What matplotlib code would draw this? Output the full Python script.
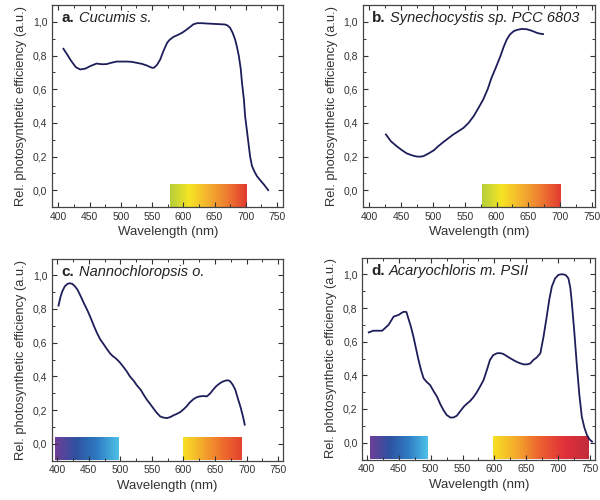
import numpy as np
import matplotlib
matplotlib.use("Agg")
import matplotlib.pyplot as plt
from matplotlib.colors import LinearSegmentedColormap
from matplotlib.ticker import MultipleLocator, FuncFormatter

plt.rcParams['font.family'] = ['Liberation Sans', 'DejaVu Sans']

# panel a: Cucumis s.
wl_a = [408, 415, 420, 428, 435, 443, 451, 461, 470, 477, 485, 493, 510, 518, 526, 534,
        542, 546, 550, 553, 558, 563, 568, 574, 578, 584, 590, 598, 604, 611, 616, 622,
        630, 638, 648, 659, 667, 671, 675, 679, 683, 686, 689, 692, 694, 697, 699, 702,
        705, 707, 710, 714, 718, 723, 729, 736]
eff_a = [0.84, 0.80, 0.77, 0.73, 0.717, 0.722, 0.737, 0.752, 0.748, 0.749, 0.757, 0.764,
         0.764, 0.762, 0.756, 0.75, 0.74, 0.733, 0.727, 0.727, 0.745, 0.776, 0.825, 0.875,
         0.893, 0.91, 0.92, 0.935, 0.95, 0.97, 0.985, 0.992, 0.992, 0.99, 0.988, 0.986,
         0.984, 0.978, 0.964, 0.935, 0.895, 0.85, 0.796, 0.72, 0.638, 0.54, 0.44, 0.35,
         0.26, 0.2, 0.143, 0.11, 0.083, 0.06, 0.034, 0.0]

# panel b: Synechocystis sp. PCC 6803
wl_b = [426, 434, 443, 451, 459, 467, 474, 480, 485, 493, 501, 508, 516, 524, 532, 540,
        548, 556, 564, 571, 579, 586, 592, 599, 606, 611, 616, 621, 627, 633, 640, 647,
        653, 658, 663, 668, 673]
eff_b = [0.331, 0.29, 0.261, 0.238, 0.218, 0.207, 0.2, 0.199, 0.202, 0.218, 0.236, 0.26,
         0.285, 0.308, 0.331, 0.35, 0.37, 0.40, 0.44, 0.485, 0.539, 0.60, 0.667, 0.73,
         0.796, 0.85, 0.895, 0.925, 0.945, 0.953, 0.958, 0.956, 0.95, 0.943, 0.935, 0.93,
         0.927]

# panel c: Nannochloropsis o.
wl_c = [402, 405, 408, 412, 416, 420, 424, 428, 432, 437, 442, 448, 453, 458, 463, 468,
        474, 479, 484, 488, 492, 496, 500, 505, 510, 515, 521, 526, 532, 537, 542, 548,
        553, 558, 563, 568, 574, 579, 584, 590, 595, 600, 605, 610, 616, 621, 626, 631,
        637, 642, 647, 652, 658, 663, 668, 671, 674, 678, 682, 686, 690, 694, 697]
eff_c = [0.82, 0.87, 0.905, 0.935, 0.949, 0.953, 0.949, 0.935, 0.915, 0.877, 0.836, 0.79,
         0.747, 0.70, 0.657, 0.62, 0.588, 0.56, 0.535, 0.52, 0.509, 0.495, 0.479, 0.455,
         0.43, 0.40, 0.374, 0.347, 0.321, 0.29, 0.261, 0.232, 0.206, 0.182, 0.162, 0.155,
         0.152, 0.158, 0.168, 0.178, 0.188, 0.204, 0.222, 0.245, 0.265, 0.276, 0.281,
         0.283, 0.281, 0.297, 0.321, 0.342, 0.36, 0.37, 0.376, 0.376, 0.37, 0.35, 0.321,
         0.27, 0.222, 0.165, 0.113]

# panel d: Acaryochloris m. PSII
wl_d = [403, 410, 424, 434, 442, 450, 454, 458, 462, 465, 469, 473, 477, 481, 485, 489,
        494, 499, 504, 510, 515, 520, 525, 531, 536, 541, 546, 552, 557, 562, 567, 572,
        577, 583, 588, 593, 598, 604, 609, 614, 619, 625, 630, 635, 640, 646, 651, 656,
        661, 666, 672, 677, 682, 686, 690, 695, 700, 704, 708, 712, 716, 719, 721, 725,
        729, 733, 737, 741, 745, 749, 753]
eff_d = [0.655, 0.665, 0.665, 0.70, 0.749, 0.759, 0.77, 0.778, 0.776, 0.739, 0.69, 0.63,
         0.56, 0.491, 0.43, 0.382, 0.36, 0.343, 0.31, 0.273, 0.23, 0.194, 0.165, 0.149,
         0.15, 0.16, 0.185, 0.214, 0.232, 0.248, 0.27, 0.297, 0.33, 0.372, 0.43, 0.491,
         0.52, 0.531, 0.532, 0.527, 0.515, 0.501, 0.49, 0.48, 0.472, 0.465, 0.465, 0.47,
         0.491, 0.505, 0.531, 0.63, 0.749, 0.85, 0.927, 0.975, 0.996, 1.0, 1.0, 0.995,
         0.976, 0.92, 0.847, 0.67, 0.471, 0.29, 0.154, 0.09, 0.046, 0.02, 0.006]

letters = ['a.', 'b.', 'c.', 'd.']
names = ['Cucumis s.', 'Synechocystis sp. PCC 6803', 'Nannochloropsis o.', 'Acaryochloris m. PSII']
xlims = [(390, 760), (390, 755), (392, 757), (393, 758)]

# spectral bars (start, end, colormap)
warm_a = LinearSegmentedColormap.from_list('wa', ['#b5cf3a', '#f6e424', '#f4b02e', '#ee7a30', '#e23a30'])
warm_c = LinearSegmentedColormap.from_list('wc', ['#f8e024', '#f4a82c', '#ee6e2e', '#e4422e'])
warm_d = LinearSegmentedColormap.from_list('wd', ['#f8e024', '#f4a82c', '#ec5e30', '#e0303a', '#c22c3c'])
cool = LinearSegmentedColormap.from_list('cl', ['#6e3e98', '#2e52a0', '#2f7cc4', '#4ec2e8'])
bars = [
    [(578, 700, warm_a)],
    [(577, 700, warm_a)],
    [(397, 498, cool), (600, 692, warm_c)],
    [(405, 495, cool), (597, 747, warm_d)],
]

positions = [
    [0.087, 0.586, 0.385, 0.404],
    [0.605, 0.586, 0.387, 0.404],
    [0.087, 0.079, 0.384, 0.404],
    [0.604, 0.081, 0.388, 0.404],
]

data = [(wl_a, eff_a), (wl_b, eff_b), (wl_c, eff_c), (wl_d, eff_d)]

fig = plt.figure(figsize=(6, 5), dpi=100)
grad = np.linspace(0, 1, 256).reshape(1, -1)
for i in range(4):
    ax = fig.add_axes(positions[i])
    for x0, x1, cm in bars[i]:
        ax.imshow(grad, cmap=cm, extent=[x0, x1, -0.1, 0.033], aspect='auto', zorder=1)
    ax.plot(data[i][0], data[i][1], color='#1e1e5a', lw=1.3, zorder=3)
    ax.set_xlim(*xlims[i])
    ax.set_ylim(-0.1, 1.1)
    ax.xaxis.set_major_locator(MultipleLocator(50))
    ax.xaxis.set_minor_locator(MultipleLocator(25))
    ax.yaxis.set_major_locator(MultipleLocator(0.2))
    ax.yaxis.set_minor_locator(MultipleLocator(0.1))
    ax.yaxis.set_major_formatter(FuncFormatter(lambda v, p: ('%.1f' % v).replace('.', ',').replace('-0,0', '0,0')))
    ax.tick_params(which='both', direction='in', top=True, right=True, color='#333333',
                   labelsize=7.5, labelcolor='#333333')
    ax.tick_params(which='major', length=3.5, width=0.8)
    ax.tick_params(which='minor', length=2, width=0.7)
    for s in ax.spines.values():
        s.set_color('#444444')
        s.set_linewidth(0.9)
    ax.set_xlabel('Wavelength (nm)', fontsize=9.5, color='#333333', labelpad=3)
    ax.set_ylabel('Rel. photosynthetic efficiency (a.u.)', fontsize=9.3, color='#333333', labelpad=4)
    ax.text(0.04, 0.935, letters[i], transform=ax.transAxes, fontsize=11, fontweight='bold',
            color='#222222', va='center', ha='left')
    ax.text(0.04 + 0.075, 0.935, names[i], transform=ax.transAxes, fontsize=10.5, style='italic',
            color='#222222', va='center', ha='left')

fig.savefig('out.png', dpi=100)
